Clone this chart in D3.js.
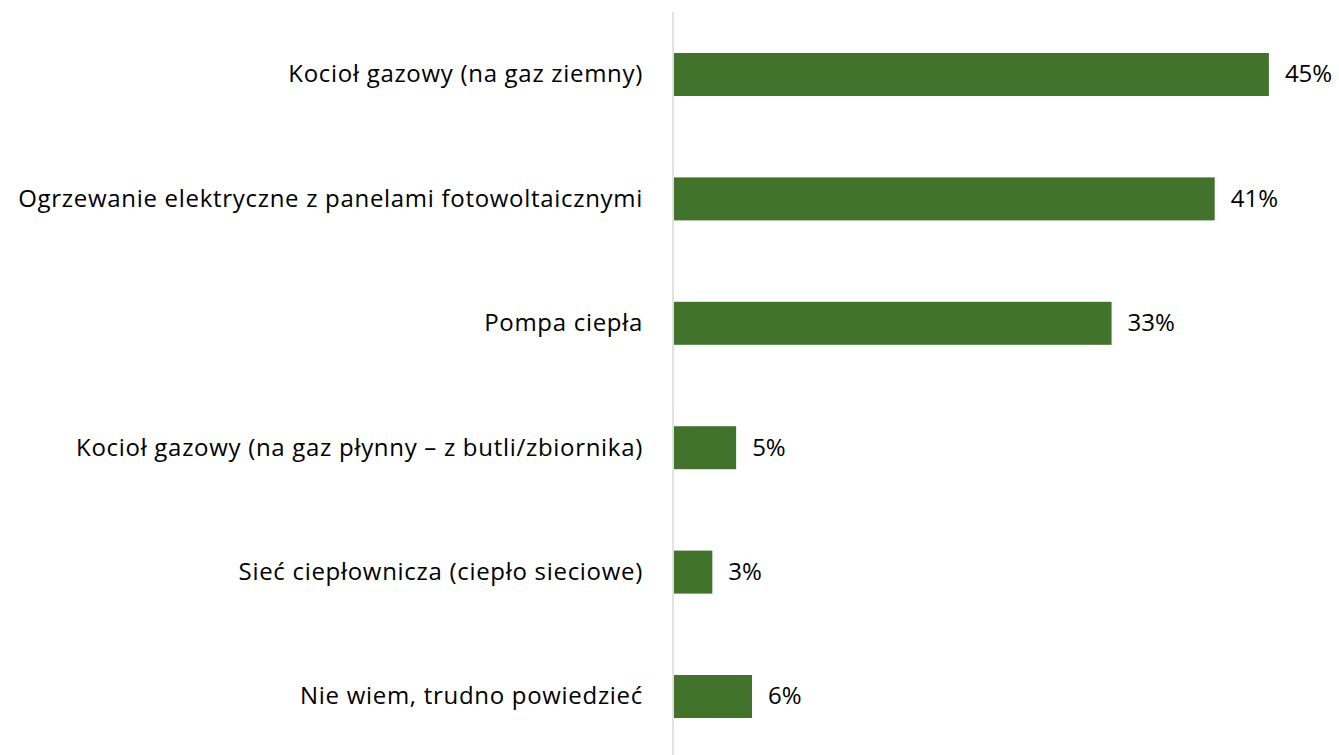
<!DOCTYPE html>
<html><head><meta charset="utf-8">
<script src="https://cdn.jsdelivr.net/npm/d3@7"></script>
<style>body{margin:0;background:#fff}svg{display:block}</style>
</head><body>
<svg id="c" width="1339" height="755"></svg>
<script>
const categories = [
  "Kocioł gazowy (na gaz ziemny)",
  "Ogrzewanie elektryczne z panelami fotowoltaicznymi",
  "Pompa ciepła",
  "Kocioł gazowy (na gaz płynny – z butli/zbiornika)",
  "Sieć ciepłownicza (ciepło sieciowe)",
  "Nie wiem, trudno powiedzieć"
];
const values = [45, 40.9, 33.1, 4.7, 2.9, 5.9];
const valueLabels = ["45%", "41%", "33%", "5%", "3%", "6%"];

const svg = d3.select("#c");
const font = "'Open Sans', sans-serif";
const x = d3.scaleLinear().domain([0, 50]).range([674, 1335]);
const y = d3.scaleBand().domain(categories).range([12.3, 758.7]).padding(0);
const barH = 43;

svg.append("line").attr("x1", 673).attr("x2", 673).attr("y1", 12).attr("y2", 755)
  .attr("stroke", "#d9d9d9").attr("stroke-width", 1.5);

const g = svg.selectAll("g.row").data(categories).enter().append("g");
g.append("rect")
  .attr("x", x(0))
  .attr("y", d => y(d) + y.bandwidth()/2 - barH/2)
  .attr("width", (d,i) => x(values[i]) - x(0))
  .attr("height", barH)
  .attr("fill", "#41732C");
g.append("text")
  .attr("x", 643)
  .attr("y", d => y(d) + y.bandwidth()/2)
  .attr("dy", "0.33em")
  .attr("text-anchor", "end")
  .attr("font-family", font).attr("font-size", 24).attr("letter-spacing", 0.7).attr("fill", "#000")
  .text(d => d);
g.append("text")
  .attr("x", (d,i) => x(values[i]) + 16)
  .attr("y", d => y(d) + y.bandwidth()/2)
  .attr("dy", "0.33em")
  .attr("font-family", font).attr("font-size", 24).attr("fill", "#000")
  .text((d,i) => valueLabels[i]);
</script>
</body></html>
